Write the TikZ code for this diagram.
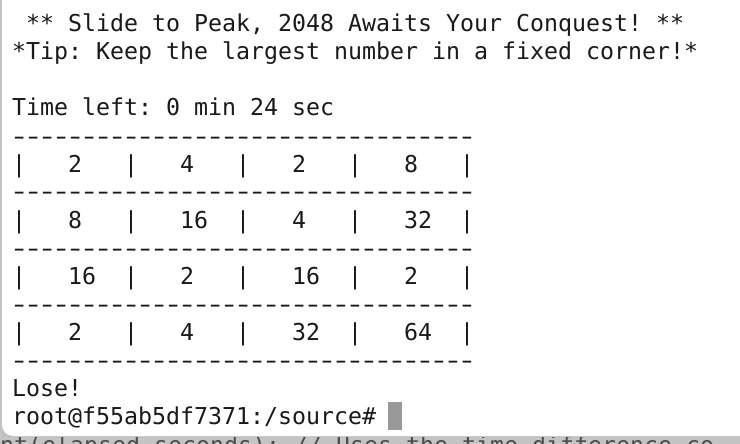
\documentclass[tikz,border=0pt]{standalone}
\usepackage{fontspec}
\usepackage{graphicx}
\newfontfamily\termfont{DejaVu Sans Mono}
\definecolor{termtext}{HTML}{1A1A1A}
\definecolor{cursorgray}{HTML}{999999}
\definecolor{backdrop}{HTML}{C4C4C4}
\newcommand\dashcell{\makebox[0.60205em]{\scalebox{1.45}[1]{-}}}
\newcommand\eightdash{\dashcell\dashcell\dashcell\dashcell\dashcell\dashcell\dashcell\dashcell}
\newcommand\sepline{\eightdash\eightdash\eightdash\eightdash\dashcell}
\tikzset{
  termline/.style={anchor=base west, inner sep=0pt, text=termtext,
    font=\termfont\fontsize{23.25pt}{28pt}\selectfont\frenchspacing},
}

\begin{document}
\begin{tikzpicture}[x=1pt, y=-1pt]
\useasboundingbox (0,0) rectangle (740,444);

% Editor behind the window
\fill[backdrop] (0,0) rectangle (740,444);
\begin{scope}
\clip (0,0) rectangle (740,444);
\node[termline, text=black!70] (behind) at (0,453) {nt(elapsed\_seconds); // Uses the time difference co};
\end{scope}

% Terminal window
\fill[black!25] (2,-12) rectangle (752,437) [rounded corners=11pt];
\fill[white, rounded corners=11pt] (2,-12) rectangle (752,436);

% Header
\node[termline] (title) at (12,32) {\ ** Slide to Peak, 2048 Awaits Your Conquest! **};
\node[termline] (tip) at (12,60) {*Tip: Keep the largest number in a fixed corner!*};
\node[termline] (timer) at (12,116) {Time left: 0 min 24 sec};

% Board
\node[termline] (sep0) at (12,144) {\sepline};
\node[termline] (row1) at (12,172) {|\ \ \ 2\ \ \ |\ \ \ 4\ \ \ |\ \ \ 2\ \ \ |\ \ \ 8\ \ \ |};
\node[termline] (sep1) at (12,200) {\sepline};
\node[termline] (row2) at (12,228) {|\ \ \ 8\ \ \ |\ \ \ 16\ \ |\ \ \ 4\ \ \ |\ \ \ 32\ \ |};
\node[termline] (sep2) at (12,256) {\sepline};
\node[termline] (row3) at (12,284) {|\ \ \ 16\ \ |\ \ \ 2\ \ \ |\ \ \ 16\ \ |\ \ \ 2\ \ \ |};
\node[termline] (sep3) at (12,312) {\sepline};
\node[termline] (row4) at (12,340) {|\ \ \ 2\ \ \ |\ \ \ 4\ \ \ |\ \ \ 32\ \ |\ \ \ 64\ \ |};
\node[termline] (sep4) at (12,368) {\sepline};

% Result and prompt
\node[termline] (lose) at (12,396) {Lose!};
\node[termline] (prompt) at (12,424) {root@f55ab5df7371:/source\#};
\fill[cursorgray] (388,402) rectangle (402,430);

\end{tikzpicture}
\end{document}
